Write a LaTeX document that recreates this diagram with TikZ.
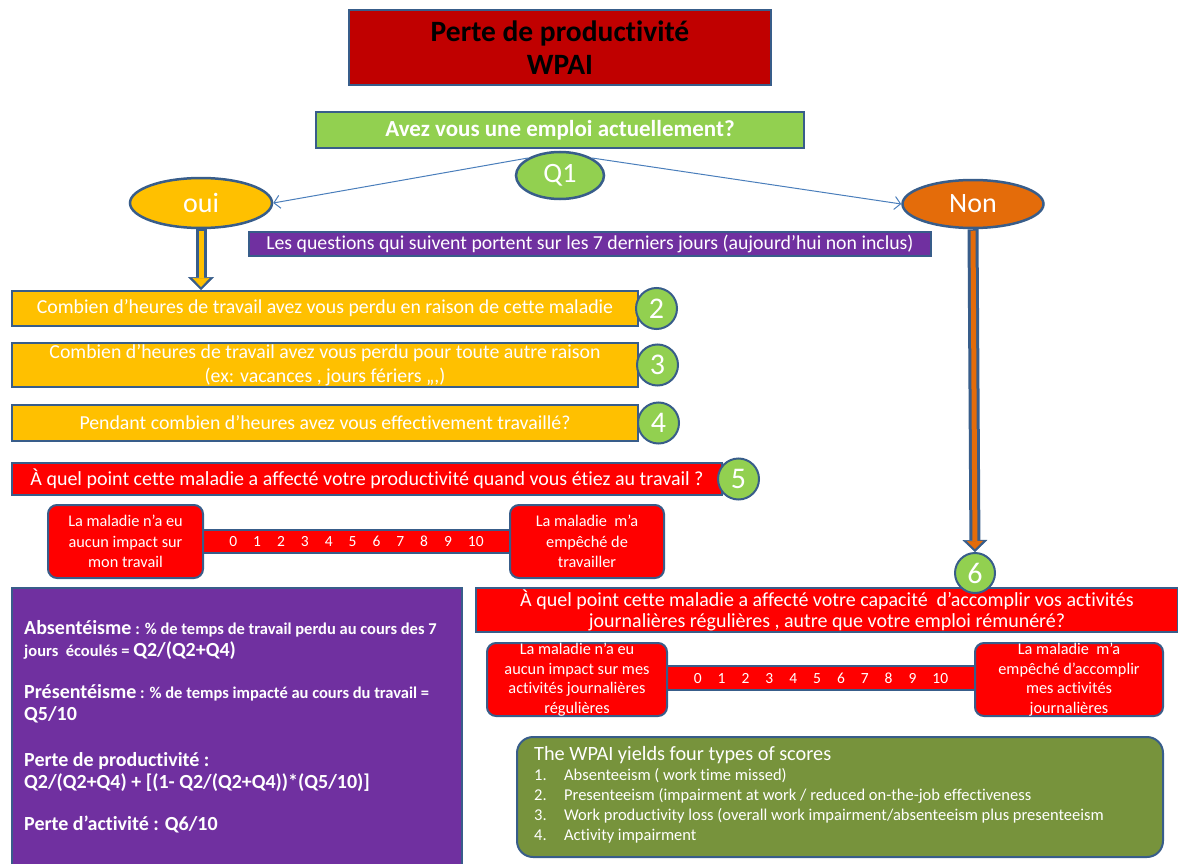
\documentclass[tikz,border=0pt]{standalone}
\usepackage{fontspec}
\setmainfont{Carlito}[Ligatures=NoCommon]
\usepackage{xcolor}
\usetikzlibrary{shapes,arrows.meta,positioning,calc}

\definecolor{bordure}{RGB}{56,93,138}
\definecolor{rougefonce}{RGB}{192,0,0}
\definecolor{vertclair}{RGB}{146,208,80}
\definecolor{jaune}{RGB}{255,192,0}
\definecolor{orange2}{RGB}{228,108,10}
\definecolor{violet2}{RGB}{112,48,160}
\definecolor{olive2}{RGB}{119,147,60}
\definecolor{lien}{RGB}{74,126,187}

\newcommand{\grand}[1]{{\fontsize{20}{22}\selectfont #1}}
\newcommand{\echelle}{0\hspace{16pt}1\hspace{16pt}2\hspace{16pt}3\hspace{16pt}4\hspace{16pt}5\hspace{16pt}6\hspace{16pt}7\hspace{16pt}8\hspace{16pt}9\hspace{16pt}10}

\begin{document}
\begin{tikzpicture}[
        x=1pt, y=-1pt,
        box/.style={rectangle, draw=bordure, line width=2pt, text=white, align=center, inner sep=0pt},
        question/.style={box, fill=jaune, minimum width=626, minimum height=36, font=\fontsize{19.8}{24}\selectfont},
        urgent/.style={box, fill=red, font=\fontsize{20}{21}\selectfont},
        num/.style={circle, draw=bordure, line width=2pt, fill=vertclair, text=white, minimum size=41, inner sep=0pt, font=\fontsize{30}{30}\selectfont},
        reponse/.style={ellipse, draw=bordure, line width=2.5pt, text=white, minimum width=142, minimum height=50, inner sep=0pt, font=\fontsize{28}{28}\selectfont},
        impact/.style={box, fill=red, rounded corners=9pt, minimum height=73, font=\fontsize{16.3}{20.5}\selectfont},
        barre/.style={box, fill=red, font=\fontsize{15.5}{15.5}\selectfont},
        fleche/.style={draw=lien, line width=1pt, -{Straight Barb[length=6pt,width=13pt]}}
    ]
    \useasboundingbox (0,0) rectangle (1178,864);

    \node [box, fill=rougefonce, text=black, minimum width=422, minimum height=75, font=\bfseries\fontsize{29.5}{33}\selectfont] (titre) at (560,47.5) {Perte de productivité\\WPAI};

    \node [box, fill=vertclair, minimum width=488, minimum height=36, font=\bfseries\fontsize{23}{23}\selectfont] (emploi) at (560,130) {Avez vous une emploi actuellement?};
    \node [reponse, fill=vertclair, minimum width=88, minimum height=47] (q1) at (560,175.5) {Q1};

    \node [reponse, fill=jaune] (oui) at (201,203) {oui};
    \node [reponse, fill=orange2, minimum width=141, minimum height=48] (non) at (973,204) {Non};

    \node [box, fill=violet2, line width=1.5pt, minimum width=682, minimum height=24, font=\fontsize{19.8}{19.8}\selectfont] (periode) at (590,244) {Les questions qui suivent portent sur les 7 derniers jours (aujourd’hui non inclus)};

    % questions pour ceux qui travaillent
    \node [question, minimum height=35] (q2box) at (325,308.5) {Combien d’heures de travail avez vous perdu en raison de cette maladie};
    \node [question, minimum height=44] (q3box) at (325,365) {Combien d’heures de travail avez vous perdu pour toute autre raison\\(ex: vacances , jours fériers ,,,)};
    \node [question] (q4box) at (325,423) {Pendant combien d’heures avez vous effectivement travaillé?};
    \node [urgent, minimum width=710, minimum height=32] (q5box) at (367,479) {À quel point cette maladie a affecté votre productivité quand vous étiez au travail ?};

    \node [num, right=-4pt of q2box] (n2) {2};
    \node [num, right=-3pt of q3box] (n3) {3};
    \node [num, right=-2pt of q4box] (n4) {4};
    \node [num, right=-6pt of q5box] (n5) {5};

    \node [barre, minimum width=309, minimum height=23] (barre1) at (356.5,541.5) {\echelle};
    \node [impact, minimum width=155] (aucun1) at (125.5,541.5) {La maladie n’a eu\\aucun impact sur\\mon travail};
    \node [impact, minimum width=154] (empeche1) at (587,541.5) {La maladie~ m’a\\empêché de\\travailler};

    % question pour ceux qui ne travaillent pas
    \node [urgent, minimum width=702, minimum height=44] (q6box) at (827,610) {À quel point cette maladie a affecté votre capacité~ d’accomplir vos activités\\journalières régulières , autre que votre emploi rémunéré?};
    \node [num, minimum size=40] (n6) at (975,573) {6};

    \node [barre, minimum width=310, minimum height=24] (barre2) at (821,678) {\echelle};
    \node [impact, minimum width=180, font=\fontsize{16.3}{19.5}\selectfont] (aucun2) at (577,679.5) {La maladie n’a eu\\aucun impact sur mes\\activités journalières\\régulières};
    \node [impact, minimum width=188, font=\fontsize{16.3}{19.5}\selectfont] (empeche2) at (1069,679.5) {La maladie~ m’a\\empêché d’accomplir\\mes activités\\journalières};

    % scores
    \node [box, fill=violet2, minimum width=450, minimum height=284] (formules) at (237,730) {};
    \node [anchor=north west, text=white, align=left, inner sep=0pt, font=\bfseries\fontsize{16.5}{22}\selectfont] (calcul) at (24,620) {\grand{Absentéisme} : \% de temps de travail perdu au cours des 7\\
        jours~~écoulés = \grand{Q2/(Q2+Q4)}\\[20pt]
        \grand{Présentéisme} : \% de temps impacté au cours du travail =\\
        \grand{Q5/10}\\[24pt]
        \grand{Perte de productivité :}\\
        \grand{Q2/(Q2+Q4) + [(1- Q2/(Q2+Q4))*(Q5/10)]}\\[20pt]
        \grand{Perte d’activité : Q6/10}};

    \node [box, fill=olive2, rounded corners=16pt, minimum width=646, minimum height=120] (wpai) at (840,797) {};
    \node [anchor=north west, text=white, align=left, inner sep=0pt, font=\fontsize{16.5}{20}\selectfont] (scores) at (534,746) {{\fontsize{20.3}{21}\selectfont The WPAI yields four types of scores}\\
        \makebox[30pt][l]{1.}Absenteeism ( work time missed)\\
        \makebox[30pt][l]{2.}Presenteeism (impairment at work / reduced on-the-job effectiveness\\
        \makebox[30pt][l]{3.}Work productivity loss (overall work impairment/absenteeism plus presenteeism\\
        \makebox[30pt][l]{4.}Activity impairment};

    \path [fleche] (q1.north west) -- (oui.east);
    \path [fleche] (q1.north east) -- (non.west);

    \draw [line width=11pt, draw=bordure, -{Triangle[length=13pt,width=26pt,line width=0.5pt]}] (oui.south) -- (oui.south |- q2box.north);
    \draw [line width=5pt, draw=jaune, shorten <=1.5pt, shorten >=3pt, -{Triangle[length=9pt,width=17pt,line width=0.5pt]}] (oui.south) -- (oui.south |- q2box.north);

    \draw [line width=11pt, draw=bordure, -{Triangle[length=12pt,width=25pt,line width=0.5pt]}] (non.south) -- (n6.north);
    \draw [line width=5pt, draw=orange2, shorten <=1.5pt, shorten >=3pt, -{Triangle[length=8pt,width=16pt,line width=0.5pt]}] (non.south) -- (n6.north);

\end{tikzpicture}
\end{document}
